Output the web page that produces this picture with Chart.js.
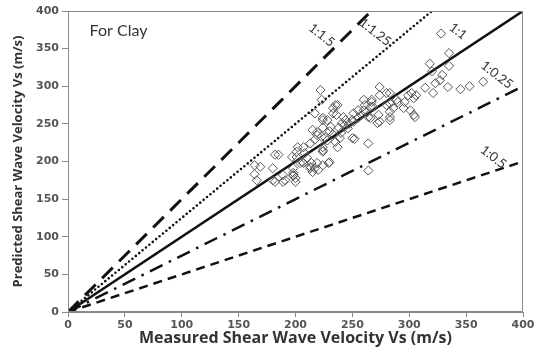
<!DOCTYPE html>
<html>
<head>
<meta charset="utf-8">
<script src="https://cdn.jsdelivr.net/npm/chart.js@4/dist/chart.umd.min.js"></script>
<style>
html,body{margin:0;padding:0;background:#fff;}
#wrap{width:538px;height:358px;position:relative;}
</style>
</head>
<body>
<div id="wrap"><canvas id="c" width="538" height="358"></canvas></div>
<script>
// Measured (x) and predicted (y) shear wave velocity, m/s
const measured = [
 328,335,318,335,320,329,327,323,334,345,353,365,314,321,302,304,296,290,295,301,304,283,306,299,286,283,289,305,
 274,274,280,267,261,266,273,283,274,264,255,251,280,283,268,260,251,242,233,235,236,233,237,222,223,241,244,224,
 231,219,223,217,213,207,201,197,224,235,239,224,250,264,252,217,224,272,283,260,267,266,237,228,224,219,215,
 207,213,219,224,230,215,220,200,198,198,182,169,164,166,180,182,189,189,200,198,206,213,217,229,264,204,201,208,
 224,185,191,180,198,202,210,214,164,
 226,230,238,243,247,250,255,258,262,246,240,233,228
];
const predicted = [
 370,344,330,327,320,315,308,304,299,296,300,306,298,291,291,284,279,279,271,268,262,291,288,288,271,277,282,259,
 299,288,291,279,275,273,262,259,253,259,268,253,275,266,273,268,264,259,264,275,262,271,275,295,282,251,255,255,
 246,239,233,229,224,219,213,206,219,226,231,213,231,224,230,264,258,251,255,282,282,258,219,255,245,235,242,
 198,193,198,195,199,186,189,178,185,191,209,193,183,175,191,173,173,182,173,181,199,191,191,198,188,198,206,211,
 215,209,175,175,182,219,205,198,195,
 232,240,245,248,250,255,258,262,265,244,238,236,228
];
// Reference lines: predicted = ratio * measured
const lineLabels = ['1:1.5','1:1.25','1:1','1:0.25','1:0.5'];
const lineRatios = [1.5, 1.25, 1, 0.75, 0.5];
// Label anchor positions in data units (measured, predicted)
const labelX = [223, 270, 343, 377, 374];
const labelY = [368, 372, 373, 315, 206];
const xTicks = [0,50,100,150,200,250,300,350,400];
const yTicks = [0,50,100,150,200,250,300,350,400];

const lineStyles = [
  {dash:[15,9], width:3, cap:'butt'},
  {dash:[0,4.4], width:2.6, cap:'round'},
  {dash:[], width:2.5, cap:'butt'},
  {dash:[14,7,2.5,7], width:2.5, cap:'butt'},
  {dash:[9,6], width:2.5, cap:'butt'}
];

const datasets = [];
lineRatios.forEach((r,i)=>{
  datasets.push({
    type:'line',
    label: lineLabels[i],
    data:[{x:0,y:0},{x:400,y:400*r}],
    borderColor:'#111',
    borderWidth: lineStyles[i].width,
    borderDash: lineStyles[i].dash,
    borderCapStyle: lineStyles[i].cap,
    pointRadius:0,
    fill:false,
    tension:0,
    order:1
  });
});
datasets.push({
  type:'scatter',
  label:'For Clay',
  data: measured.map((v,i)=>({x:v,y:predicted[i]})),
  pointStyle:'rectRot',
  pointRadius:4.6,
  pointBorderWidth:1,
  pointBorderColor:'#555',
  pointBackgroundColor:'rgba(255,255,255,0)',
  order:0
});

const extras = {
  id:'extras',
  afterDatasetsDraw(chart){
    const {ctx, chartArea:a, scales} = chart;
    ctx.save();
    ctx.strokeStyle = '#8a8a8a';
    ctx.lineWidth = 1;
    ctx.strokeRect(a.left+0.5, a.top+0.5, a.right-a.left-1, a.bottom-a.top-1);
    ctx.fillStyle = '#333';
    ctx.font = '16px Lato';
    ctx.textBaseline = 'middle';
    ctx.textAlign = 'left';
    ctx.fillText('For Clay', scales.x.getPixelForValue(19), scales.y.getPixelForValue(373));
    ctx.font = '13px Lato';
    ctx.fillStyle = '#333';
    ctx.textAlign = 'center';
    lineLabels.forEach((t,i)=>{
      const px = scales.x.getPixelForValue(labelX[i]);
      const py = scales.y.getPixelForValue(labelY[i]);
      ctx.save();
      ctx.translate(px, py);
      ctx.rotate(38*Math.PI/180);
      ctx.fillText(t, 0, 0);
      ctx.restore();
    });
    ctx.restore();
  }
};

new Chart(document.getElementById('c'), {
  data:{datasets},
  options:{
    responsive:false,
    animation:false,
    layout:{padding:{left:0,right:15,top:11,bottom:10}},
    plugins:{legend:{display:false}, tooltip:{enabled:false}},
    scales:{
      x:{
        type:'linear', min:0, max:400,
        afterBuildTicks(s){ s.ticks = xTicks.map(v=>({value:v})); },
        afterFit(s){ s.height = 36; },
        grid:{display:true, drawOnChartArea:false, tickLength:5, color:'#8a8a8a'},
        border:{display:true, color:'#8a8a8a'},
        ticks:{color:'#555', font:{family:'DejaVu Sans', size:11, weight:'bold'}, padding:2, maxRotation:0},
        title:{display:true, text:'Measured Shear Wave Velocity Vs (m/s)', color:'#333',
               font:{family:'Open Sans', size:16, weight:'bold'}, padding:{top:0,bottom:0}}
      },
      y:{
        type:'linear', min:0, max:400,
        afterBuildTicks(s){ s.ticks = yTicks.map(v=>({value:v})); },
        afterFit(s){ s.width = 68; },
        grid:{display:true, drawOnChartArea:false, tickLength:6, color:'#8a8a8a'},
        border:{display:true, color:'#8a8a8a'},
        ticks:{color:'#555', font:{family:'DejaVu Sans', size:11, weight:'bold'}, padding:3},
        title:{display:true, text:'Predicted Shear Wave Velocity Vs (m/s)', color:'#333',
               font:{family:'Open Sans', size:13, weight:'bold'}, padding:{top:10,bottom:0}}
      }
    }
  },
  plugins:[extras]
});
</script>
</body>
</html>
